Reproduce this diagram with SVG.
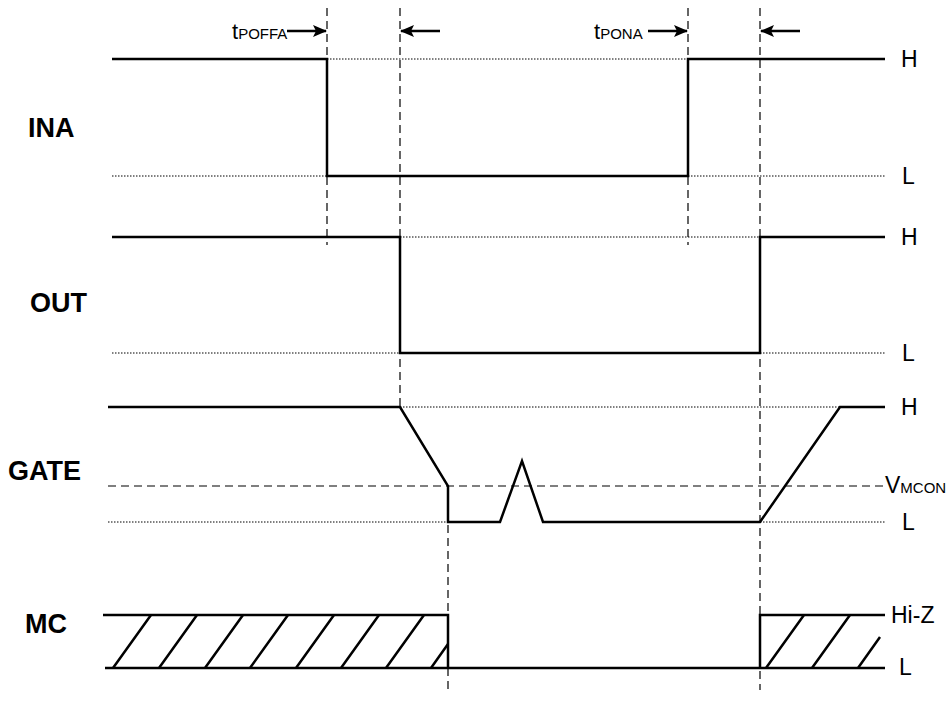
<svg xmlns="http://www.w3.org/2000/svg" width="951" height="705" viewBox="0 0 951 705">
<style>
.sig{fill:none;stroke:#000;stroke-width:2.5;stroke-linejoin:miter}
.dot{fill:none;stroke:#000;stroke-width:1;stroke-dasharray:1.5 1.5}
.dash{fill:none;stroke:#000;stroke-width:1.2;stroke-dasharray:8 5}
.arr{fill:none;stroke:#000;stroke-width:2.5}
.lbl{font-family:"Liberation Sans",Arial,sans-serif;font-size:27px;font-weight:bold;fill:#000}
.lv{font-family:"Liberation Sans",Arial,sans-serif;font-size:23px;fill:#000}
.tl{font-family:"Liberation Sans",Arial,sans-serif;font-size:22px;fill:#000}
.sub{font-size:15px}
</style>
<defs>
<marker id="ah" viewBox="0 0 14 12" refX="13" refY="6" markerWidth="14" markerHeight="12" markerUnits="userSpaceOnUse" orient="auto">
<path d="M0,0 L14,6 L0,12 L3,6 Z" fill="#000"/>
</marker>
</defs>
<g id="connectors">
<line class="dash" x1="327" y1="8" x2="327" y2="245"/>
<line class="dash" x1="400" y1="8" x2="400" y2="408"/>
<line class="dash" x1="688" y1="8" x2="688" y2="245"/>
<line class="dash" x1="760" y1="8" x2="760" y2="690"/>
<line class="dash" x1="448" y1="486" x2="448" y2="690"/>
<line class="arr" x1="287" y1="31" x2="326" y2="31" marker-end="url(#ah)"/>
<line class="arr" x1="440" y1="31" x2="401" y2="31" marker-end="url(#ah)"/>
<line class="arr" x1="648" y1="31" x2="687" y2="31" marker-end="url(#ah)"/>
<line class="arr" x1="800" y1="31" x2="761" y2="31" marker-end="url(#ah)"/>
</g>
<g id="timing-labels">
<text class="tl" x="232" y="39">t<tspan class="sub">POFFA</tspan></text>
<text class="tl" x="594" y="39">t<tspan class="sub">PONA</tspan></text>
</g>
<g id="INA">
<text class="lbl" x="28" y="137">INA</text>
<line class="dot" x1="327" y1="59" x2="688" y2="59"/>
<line class="dot" x1="112" y1="176" x2="327" y2="176"/>
<line class="dot" x1="688" y1="176" x2="885" y2="176"/>
<polyline class="sig" points="112,59 327,59 327,176 688,176 688,59 885,59"/>
<text class="lv" x="901" y="67">H</text>
<text class="lv" x="902" y="184">L</text>
</g>
<g id="OUT">
<text class="lbl" x="30" y="312">OUT</text>
<line class="dot" x1="400" y1="237" x2="760" y2="237"/>
<line class="dot" x1="112" y1="353" x2="400" y2="353"/>
<line class="dot" x1="760" y1="353" x2="885" y2="353"/>
<polyline class="sig" points="112,237 400,237 400,353 760,353 760,237 885,237"/>
<text class="lv" x="901" y="245">H</text>
<text class="lv" x="902" y="361">L</text>
</g>
<g id="GATE">
<text class="lbl" x="8" y="480">GATE</text>
<line class="dot" x1="400" y1="407" x2="840" y2="407"/>
<line class="dot" x1="108" y1="522" x2="448" y2="522"/>
<line class="dot" x1="760" y1="522" x2="885" y2="522"/>
<line class="dash" x1="108" y1="486" x2="885" y2="486"/>
<polyline class="sig" points="108,407 400,407 448,486 448,522 500,522 522,461 543,522 760,522 840,407 885,407"/>
<text class="lv" x="901" y="415">H</text>
<text class="lv" x="885" y="493">V<tspan class="sub">MCON</tspan></text>
<text class="lv" x="902" y="530">L</text>
</g>
<g id="MC">
<text class="lbl" x="25" y="633">MC</text>
<polyline class="sig" points="103,615 448,615 448,668"/>
<line class="sig" x1="105" y1="668" x2="885" y2="668"/>
<polyline class="sig" points="760,668 760,615 885,615"/>
<path class="sig" stroke-width="2" d="M113,668 L151,615 M159,668 L197,615 M205,668 L243,615 M250,668 L288,615 M296,668 L334,615 M341,668 L379,615 M386,668 L424,615 M431,668 L448,644 M766,668 L804,615 M812,668 L850,615 M858,668 L880,637"/>
<text class="lv" x="891" y="623">Hi-Z</text>
<text class="lv" x="899" y="675">L</text>
</g>
</svg>
